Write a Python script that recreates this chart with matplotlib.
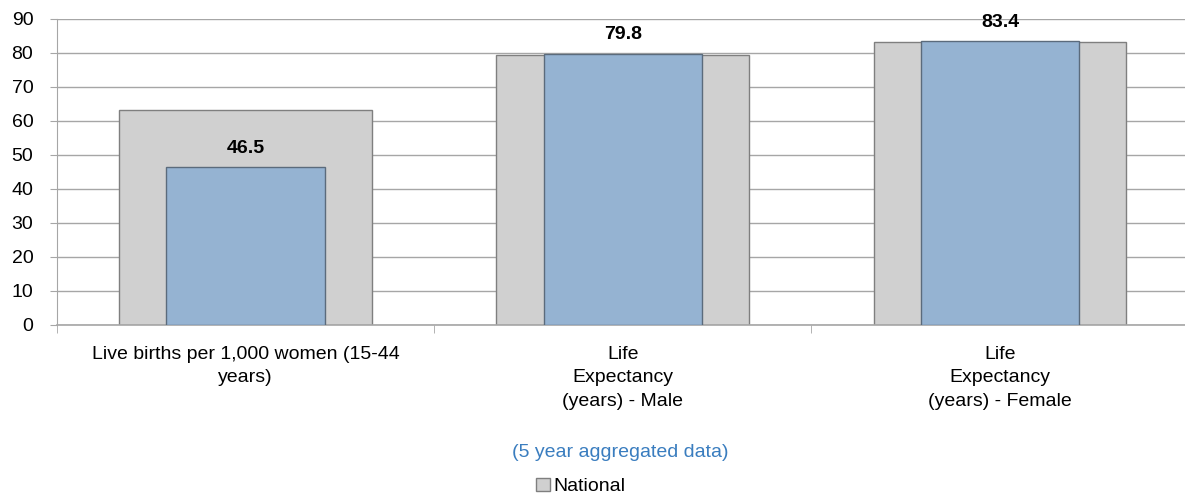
import numpy as np
import matplotlib
matplotlib.use("Agg")
from matplotlib import pyplot as plt
from matplotlib.patches import Patch

plt.rcParams['font.family'] = ['Liberation Sans', 'DejaVu Sans']

categories = ["Live births per 1,000 women (15-44\nyears)",
              "Life\nExpectancy\n(years) - Male",
              "Life\nExpectancy\n(years) - Female"]
national = [63.3, 79.4, 83.2]
local = [46.5, 79.8, 83.4]
y_ticks = list(range(0, 100, 10))

fs = 14

fig = plt.figure(figsize=(11.85, 4.99), dpi=100)
ax = fig.add_axes([0.048, 0.349, 0.955, 0.613])

x = np.arange(len(categories))
ax.bar(x, national, width=0.67, color='#d0d0d0', edgecolor='#7f7f7f', linewidth=1.0, zorder=2)
ax.bar(x, local, width=0.42, color='#95b3d2', edgecolor='#5b6b7c', linewidth=1.0, zorder=3)

for xi, v in zip(x, local):
    ax.text(xi, v + 3.0, "{0:.1f}".format(v), ha='center', va='bottom',
            fontsize=fs, fontweight='bold', color='#000000', zorder=4)

ax.set_xlim(-0.5, len(categories) - 0.5)
ax.set_ylim(0, 90)
ax.set_yticks(y_ticks)
ax.set_yticklabels([str(t) for t in y_ticks], fontsize=fs)
ax.yaxis.grid(True, color='#a6a6a6', linewidth=1.0, zorder=0)
ax.set_axisbelow(True)

ax.set_xticks(x)
ax.set_xticklabels(categories, fontsize=fs, linespacing=1.5)
ax.set_xticks(np.arange(-0.5, len(categories)), minor=True)
ax.tick_params(axis='x', which='major', length=0, pad=15)
ax.tick_params(axis='x', which='minor', length=6, color='#a6a6a6', direction='out')
ax.tick_params(axis='y', length=5, color='#a6a6a6', direction='out', pad=12)

for side in ['top', 'right']:
    ax.spines[side].set_visible(False)
ax.spines['left'].set_color('#a6a6a6')
ax.spines['bottom'].set_color('#a6a6a6')
ax.spines['bottom'].set_linewidth(1.2)

fig.text(0.523, 0.094, "(5 year aggregated data)", ha='center', va='center',
         fontsize=fs, color='#3a7dbf')

handles = [Patch(facecolor='#d0d0d0', edgecolor='#7f7f7f', label='National')]
fig.legend(handles=handles, loc='center', bbox_to_anchor=(0.49, 0.025), frameon=False,
           fontsize=fs, handlelength=0.7, handleheight=0.7, handletextpad=0.2)

fig.savefig("out.png", dpi=100)
